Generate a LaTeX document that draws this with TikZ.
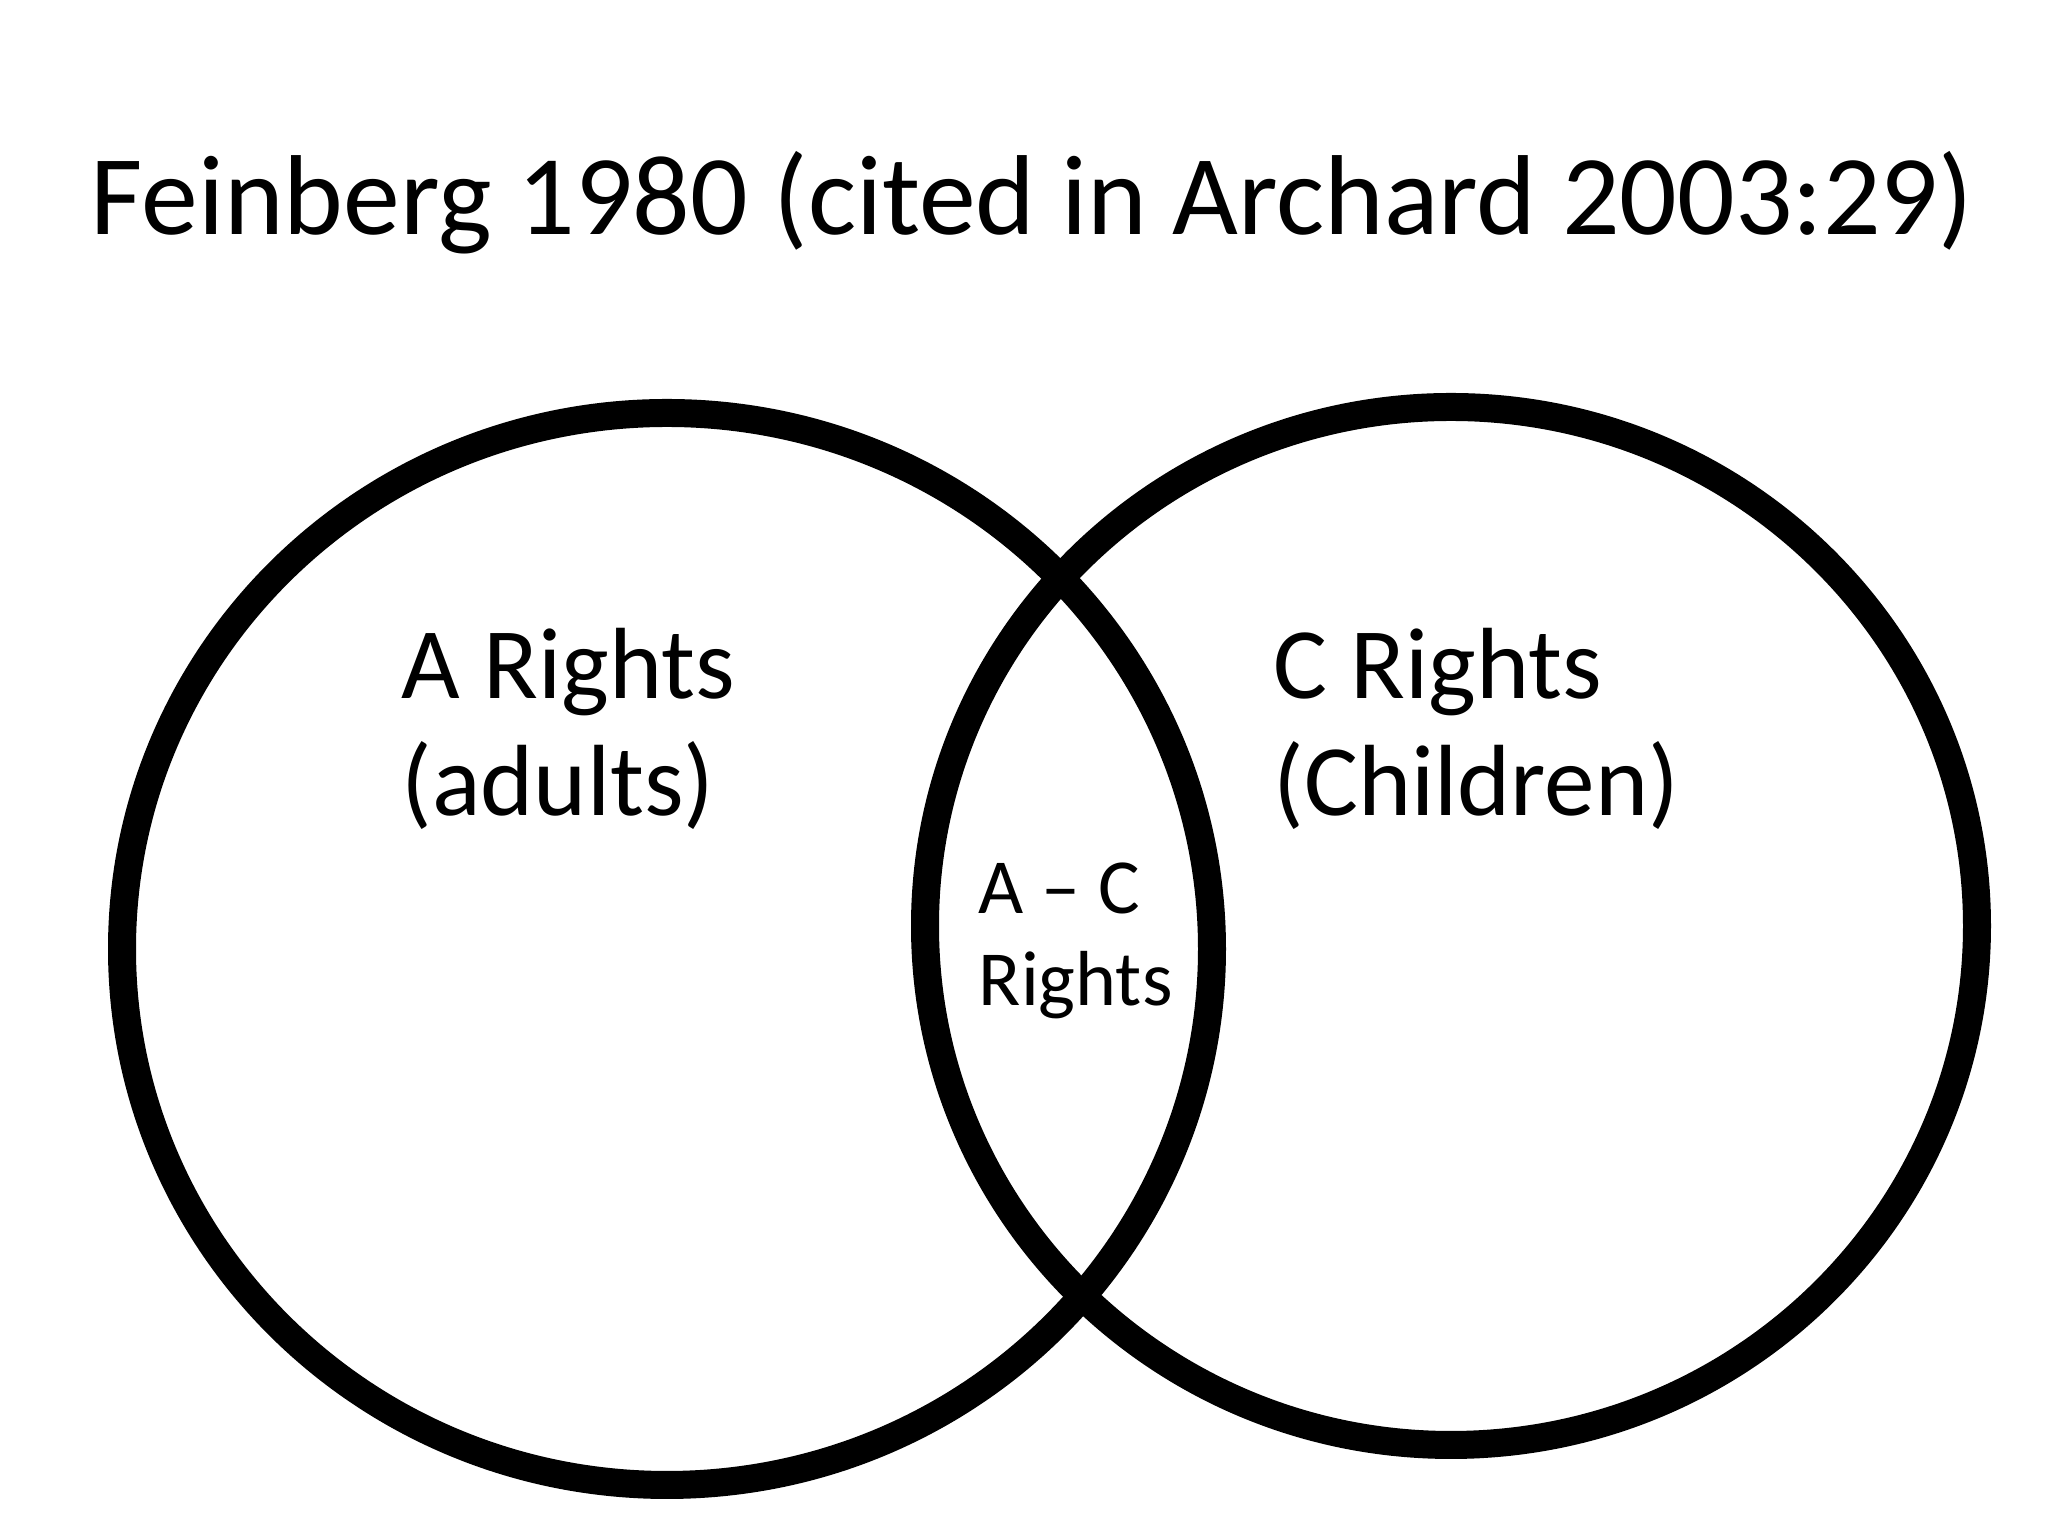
\documentclass[tikz,border=0pt]{standalone}
\usepackage{fontspec}
\setmainfont{Carlito}
\tikzset{
  ring/.style={line width=0.28cm,black},
  big/.style={font=\fontsize{28.8}{33.3}\selectfont,align=left,inner sep=0pt,anchor=base west},
  small/.style={font=\fontsize{22.2}{26.2}\selectfont,align=left,inner sep=0pt,anchor=base west}
}
\begin{document}
\begin{tikzpicture}
 \useasboundingbox (0,0) rectangle (20.48,15.36);
 % the two sets
 \draw[ring] (6.67,5.87) ellipse [x radius=5.45,y radius=5.36];
 \draw[ring] (14.51,6.10) ellipse [x radius=5.26,y radius=5.19];
 % texts
 \node[font=\fontsize{32.35}{38}\selectfont,inner sep=0pt,anchor=base] (title) at (10.32,13.01) {Feinberg 1980 (cited in Archard 2003:29)};
 \node[big] (adult) at (4.01,7.20) {A Rights\\(adults)};
 \node[big] (child) at (12.73,7.20) {C Rights\\(Children)};
 \node[small] (shared) at (9.78,5.30) {A -- C\\Rights};
\end{tikzpicture}
\end{document}
